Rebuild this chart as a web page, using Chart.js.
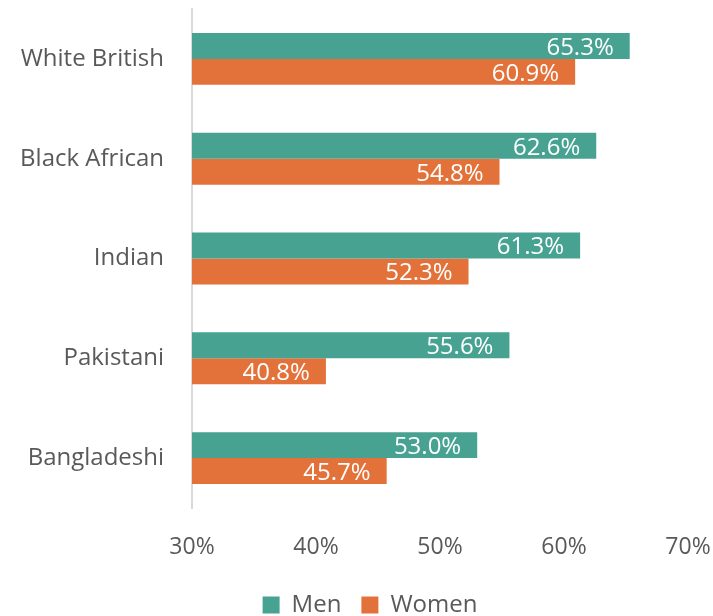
<!DOCTYPE html>
<html>
<head>
<meta charset="utf-8">
<script src="https://cdn.jsdelivr.net/npm/chart.js@4/dist/chart.umd.min.js"></script>
<style>
html,body{margin:0;padding:0;background:#fff;}
#wrap{width:713px;height:616px;position:relative;}
</style>
</head>
<body>
<div id="wrap"><canvas id="c" width="713" height="616"></canvas></div>
<script>
const categories = ["White British", "Black African", "Indian", "Pakistani", "Bangladeshi"];
const menValues = [65.3, 62.6, 61.3, 55.6, 53.0];
const womenValues = [60.9, 54.8, 52.3, 40.8, 45.7];
const seriesNames = ["Men", "Women"];
const xTicks = [30, 40, 50, 60, 70];

const FONT = "'Open Sans', 'Noto Sans', sans-serif";

const barLabels = {
  id: 'barLabels',
  afterDatasetsDraw(chart) {
    const ctx = chart.ctx;
    ctx.save();
    ctx.font = "24px " + FONT;
    ctx.fillStyle = "#ffffff";
    ctx.textAlign = "right";
    ctx.textBaseline = "middle";
    chart.data.datasets.forEach((ds, di) => {
      const meta = chart.getDatasetMeta(di);
      meta.data.forEach((el, i) => {
        ctx.fillText(ds.data[i].toFixed(1) + "%", el.x - 16, el.y + 2);
      });
    });
    ctx.restore();
  }
};

const legendShift = {
  id: 'legendShift',
  afterLayout(chart) {
    const lg = chart.legend;
    lg.top += 11; lg.bottom += 11;
    lg.left += 26; lg.right += 26;
  }
};

new Chart(document.getElementById('c'), {
  type: 'bar',
  data: {
    labels: categories,
    datasets: [
      { label: seriesNames[0], data: menValues, backgroundColor: "#47a292", borderWidth: 0 },
      { label: seriesNames[1], data: womenValues, backgroundColor: "#e3723a", borderWidth: 0 }
    ]
  },
  options: {
    indexAxis: 'y',
    responsive: false,
    animation: false,
    layout: { padding: { top: 9, right: 25, left: 0, bottom: 0 } },
    datasets: { bar: { categoryPercentage: 0.52, barPercentage: 1.0 } },
    scales: {
      x: {
        min: 30, max: 70,
        afterBuildTicks(scale) { scale.ticks = xTicks.map(v => ({ value: v })); },
        grid: { display: false, drawTicks: false },
        border: { display: false },
        ticks: {
          padding: 26,
          color: "#595959",
          font: { size: 23, family: FONT },
          callback: v => v + "%"
        },
        afterFit(scale) { scale.height = 54; scale.paddingLeft = 0; scale.paddingRight = 0; }
      },
      y: {
        grid: { display: false, drawTicks: false },
        border: { display: true, color: "#d9d9d9", width: 2 },
        ticks: {
          padding: 28,
          color: "#595959",
          font: { size: 24, family: FONT }
        },
        afterFit(scale) { scale.width = 192; scale.paddingTop = 0; scale.paddingBottom = 0; }
      }
    },
    plugins: {
      legend: {
        position: 'bottom',
        labels: {
          color: "#595959",
          font: { size: 24, family: FONT },
          boxWidth: 17,
          boxHeight: 17,
          padding: 20
        }
      },
      tooltip: { enabled: false }
    }
  },
  plugins: [barLabels, legendShift]
});
</script>
</body>
</html>
